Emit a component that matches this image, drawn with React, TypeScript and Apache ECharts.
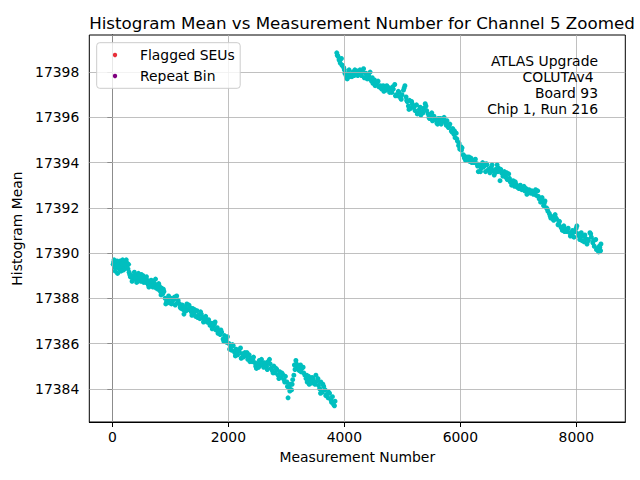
import React, { useEffect, useRef } from "react";
import * as echarts from "echarts";

const TITLE = "Histogram Mean vs Measurement Number for Channel 5 Zoomed";
const X_NAME = "Measurement Number";
const Y_NAME = "Histogram Mean";
const X_TICKS = [0, 2000, 4000, 6000, 8000];
const Y_TICKS = [17384, 17386, 17388, 17390, 17392, 17394, 17396, 17398];
const X_LIMITS = [-397, 8845];
const Y_LIMITS = [17382.53, 17399.64];
const LEGEND_NAMES = ["Flagged SEUs", "Repeat Bin"];
const LEGEND_COLORS = ["#e8303a", "#800080"];
const ANNOTATION = ["ATLAS Upgrade", "COLUTAv4 ", "Board 93", "Chip 1, Run 216"];

// first run block (before the jump)
const LOW_SEGMENT: [number, number][] = [
  [15,17389.5],[30,17389.7],[45,17389.35],[60,17389.6],[75,17389.45],[90,17389.1],[105,17389.55],[120,17389.3],[140,17389.65],[155,17389.4],
  [170,17389.5],[190,17389.25],[205,17389.6],[220,17389.45],[240,17389.7],[255,17389.55],[270,17389.3],[290,17389.15],[310,17388.95],[330,17389.0],
  [350,17388.8],[370,17388.9],[390,17389.05],[410,17388.85],[430,17388.95],[450,17389.1],[470,17389.0],[490,17388.75],[510,17388.9],[530,17389.0],
  [555,17388.85],[575,17388.7],[600,17388.8],[620,17388.6],[640,17388.75],[660,17388.55],[680,17388.7],[700,17388.5],[720,17388.65],[745,17388.85],
  [765,17388.6],[790,17388.4],[810,17388.55],[830,17388.3],[850,17388.45],[870,17388.2],[890,17388.3],[910,17388.0],[935,17387.85],[960,17387.95],
  [985,17387.8],[1010,17388.0],[1035,17387.85],[1060,17387.95],[1085,17387.7],[1110,17388.1],[1135,17387.9],[1160,17387.75],[1185,17387.55],[1210,17387.7],
  [1235,17387.3],[1260,17387.6],[1285,17387.75],[1310,17387.5],[1335,17387.6],[1360,17387.4],[1385,17387.55],[1410,17387.35],[1435,17387.2],[1460,17387.45],
  [1485,17387.25],[1510,17387.1],[1535,17387.3],[1560,17387.15],[1585,17387.0],[1610,17387.2],[1635,17386.95],[1660,17387.05],[1685,17386.8],[1710,17386.9],
  [1735,17386.75],[1760,17386.85],[1785,17386.6],[1810,17386.7],[1835,17386.55],[1860,17386.4],[1885,17386.5],[1910,17386.2],[1935,17386.35],[1960,17386.15],
  [1985,17386.3],[2010,17386.0],[2035,17385.85],[2060,17385.7],[2085,17385.9],[2110,17385.6],[2135,17385.75],[2160,17385.5],[2185,17385.65],[2210,17385.8],
  [2235,17385.55],[2260,17385.4],[2285,17385.6],[2310,17385.45],[2335,17385.3],[2360,17385.5],[2385,17385.35],[2410,17385.2],[2435,17385.4],[2460,17385.15],
  [2485,17384.9],[2510,17385.1],[2535,17385.25],[2560,17385.05],[2585,17385.15],[2610,17384.95],[2635,17385.1],[2660,17385.0],[2685,17385.2],[2710,17385.3],
  [2735,17384.9],[2760,17384.8],[2785,17385.0],[2810,17384.7],[2835,17384.85],[2860,17384.6],[2885,17384.75],[2910,17384.5],[2935,17384.65],[2960,17384.4],
  [2985,17384.55],[3010,17384.3],[3030,17383.6],[3050,17384.05],[3070,17384.2],[3090,17383.95],[3110,17384.4],[3130,17384.6],[3150,17384.85],[3165,17385.25],
  [3185,17384.95],[3205,17385.0],[3225,17384.8],[3245,17385.05],[3265,17384.9],[3290,17384.95],[3320,17384.6],[3340,17384.45],[3360,17384.3],[3385,17384.55],
  [3410,17384.4],[3435,17384.25],[3460,17384.45],[3485,17384.3],[3510,17384.6],[3535,17384.35],[3555,17384.15],[3575,17384.0],[3595,17384.3],[3620,17383.85],
  [3645,17384.1],[3670,17383.95],[3695,17383.75],[3720,17383.6],[3745,17383.8],[3770,17383.5],[3795,17383.65],[3815,17383.3],[3840,17383.45]
];

// further readings in the first block
const LOW_SEGMENT_B: [number, number][] = [
  [22,17389.6],[52,17389.2],[82,17389.65],[112,17389.4],[148,17389.2],[178,17389.7],[212,17389.3],[248,17389.4],[280,17389.5],[300,17389.05],
  [340,17388.75],[380,17389.15],[420,17388.7],[460,17388.85],[500,17389.05],[540,17388.7],[588,17388.95],[630,17388.5],[670,17388.8],[710,17388.75],
  [755,17388.45],[800,17388.65],[840,17388.15],[880,17388.4],[922,17387.75],[970,17388.1],[1020,17387.75],[1070,17388.05],[1120,17387.8],[1170,17387.6],
  [1222,17387.5],[1272,17387.45],[1322,17387.7],[1372,17387.25],[1420,17387.5],[1472,17387.15],[1522,17387.4],[1572,17386.95],[1622,17387.05],[1672,17386.9],
  [1722,17386.65],[1772,17386.95],[1822,17386.45],[1872,17386.6],[1922,17386.1],[1972,17386.05],[2022,17385.75],[2072,17385.95],[2122,17385.45],[2172,17385.7],
  [2222,17385.35],[2272,17385.55],[2322,17385.6],[2372,17385.2],[2422,17385.3],[2472,17385.0],[2522,17384.95],[2572,17385.3],[2622,17385.15],[2672,17384.85],
  [2722,17385.1],[2772,17384.7],[2822,17384.9],[2872,17384.45],[2922,17384.7],[2972,17384.3],[3020,17384.1],[3060,17383.9],[3100,17384.2],[3140,17385.05],
  [3175,17385.1],[3215,17384.85],[3255,17384.75],[3300,17384.7],[3350,17384.6],[3395,17384.2],[3445,17384.5],[3495,17384.2],[3545,17384.45],[3590,17383.8],
  [3630,17384.2],[3680,17383.7],[3730,17383.85],[3780,17383.4],[3830,17383.25]
];

// second run block (after the jump)
const HIGH_SEGMENT: [number, number][] = [
  [3870,17398.85],[3890,17398.7],[3910,17398.55],[3930,17398.4],[3950,17398.6],[3970,17398.3],[3990,17398.2],[4010,17397.95],[4030,17397.85],[4050,17397.7],
  [4070,17397.95],[4095,17397.8],[4120,17397.9],[4145,17398.0],[4170,17397.85],[4195,17397.95],[4220,17398.05],[4245,17397.9],[4270,17398.1],[4295,17397.85],
  [4320,17398.0],[4345,17397.75],[4370,17397.95],[4395,17397.7],[4420,17397.85],[4445,17398.0],[4470,17397.6],[4495,17397.5],[4520,17397.65],[4545,17397.45],
  [4570,17397.55],[4595,17397.35],[4620,17397.4],[4645,17397.25],[4670,17397.4],[4695,17397.3],[4720,17397.2],[4745,17397.35],[4770,17397.3],[4795,17397.2],
  [4820,17397.1],[4845,17397.25],[4870,17397.45],[4895,17397.0],[4920,17396.95],[4945,17397.1],[4970,17396.85],[4995,17397.0],[5020,17397.2],[5045,17397.4],
  [5065,17396.9],[5085,17396.7],[5105,17396.5],[5125,17396.75],[5145,17396.4],[5170,17396.6],[5195,17396.45],[5220,17396.3],[5245,17396.55],[5270,17396.2],
  [5295,17396.35],[5320,17396.1],[5345,17396.25],[5370,17396.4],[5395,17396.6],[5420,17396.3],[5445,17396.15],[5470,17395.95],[5495,17396.1],[5520,17395.85],
  [5545,17396.05],[5570,17395.9],[5595,17395.75],[5620,17395.95],[5645,17395.8],[5670,17395.7],[5695,17395.9],[5720,17396.0],[5745,17395.75],[5770,17395.85],
  [5795,17395.55],[5820,17395.7],[5845,17395.4],[5870,17395.5],[5890,17395.25],[5910,17395.1],[5930,17395.3],[5950,17394.95],[5970,17394.75],[5990,17394.6],
  [6010,17394.7],[6030,17394.65],[6050,17394.35],[6070,17394.2],[6090,17394.1],[6110,17394.25],[6135,17394.15],[6160,17394.05],[6185,17394.2],[6210,17394.1],
  [6235,17394.0],[6260,17394.15],[6285,17393.95],[6310,17393.6],[6335,17393.9],[6360,17393.75],[6385,17394.0],[6410,17393.85],[6435,17393.6],[6460,17393.9],
  [6485,17393.7],[6510,17393.55],[6535,17393.8],[6560,17393.65],[6585,17393.45],[6610,17393.7],[6635,17393.9],[6660,17393.75],[6685,17393.2],[6710,17393.55],
  [6735,17393.4],[6760,17393.6],[6785,17393.35],[6810,17393.25],[6835,17393.5],[6860,17393.15],[6885,17393.0],[6910,17393.2],[6935,17392.95],[6960,17393.05],
  [6985,17392.9],[7010,17392.85],[7035,17393.0],[7060,17392.8],[7085,17392.9],[7110,17392.75],[7135,17392.85],[7160,17392.7],[7185,17392.8],[7210,17392.65],
  [7235,17392.75],[7260,17392.6],[7285,17392.7],[7310,17392.55],[7335,17392.75],[7360,17392.4],[7385,17392.25],[7410,17392.45],[7435,17392.1],[7460,17392.3],
  [7485,17392.0],[7510,17391.85],[7535,17391.75],[7560,17391.55],[7585,17391.6],[7610,17391.45],[7635,17391.7],[7660,17391.5],[7685,17391.25],[7710,17391.4],
  [7735,17391.15],[7760,17391.0],[7785,17391.2],[7810,17391.05],[7835,17390.95],[7860,17391.1],[7885,17390.9],[7910,17390.85],[7935,17391.0],[7960,17390.7],
  [7985,17390.95],[8010,17391.2],[8035,17390.85],[8060,17390.6],[8085,17390.9],[8110,17390.75],[8135,17390.5],[8160,17390.65],[8185,17390.4],[8210,17390.55],
  [8235,17390.9],[8260,17390.7],[8285,17390.45],[8310,17390.3],[8335,17390.6],[8360,17390.2],[8385,17390.05],[8405,17390.25],[8425,17390.4]
];

// further readings in the second block
const HIGH_SEGMENT_B: [number, number][] = [
  [3880,17398.75],[3920,17398.5],[3960,17398.3],[4000,17398.1],[4040,17397.75],[4082,17398.1],[4132,17397.8],[4182,17398.1],[4232,17397.85],[4282,17397.95],
  [4332,17398.15],[4382,17397.8],[4432,17397.7],[4482,17397.75],[4532,17397.4],[4582,17397.6],[4632,17397.3],[4682,17397.15],[4732,17397.4],[4782,17397.1],
  [4832,17397.35],[4882,17396.95],[4932,17397.15],[4982,17396.8],[5032,17397.3],[5075,17396.75],[5115,17396.35],[5160,17396.7],[5210,17396.5],[5258,17396.15],
  [5308,17396.45],[5358,17396.2],[5408,17396.5],[5458,17396.0],[5508,17396.2],[5558,17395.95],[5608,17395.7],[5658,17395.95],[5708,17395.85],[5758,17395.65],
  [5808,17395.6],[5858,17395.35],[5900,17395.4],[5940,17395.05],[5980,17394.85],[6020,17394.55],[6060,17394.3],[6100,17394.15],[6148,17394.25],[6198,17394.0],
  [6248,17394.1],[6298,17393.85],[6348,17393.6],[6398,17393.8],[6448,17393.95],[6498,17393.65],[6548,17393.9],[6598,17393.55],[6648,17393.6],[6698,17393.7],
  [6748,17393.45],[6798,17393.55],[6848,17393.3],[6898,17393.1],[6948,17393.15],[6998,17392.95],[7048,17392.9],[7098,17392.95],[7148,17392.6],[7198,17392.75],
  [7248,17392.7],[7298,17392.8],[7348,17392.5],[7398,17392.35],[7448,17392.2],[7498,17391.95],[7548,17391.65],[7598,17391.5],[7648,17391.55],[7698,17391.3],
  [7748,17391.1],[7798,17390.95],[7848,17391.05],[7898,17390.75],[7948,17390.9],[7998,17391.1],[8048,17390.75],[8098,17390.55],[8148,17390.8],[8198,17390.6],
  [8248,17390.85],[8298,17390.55],[8348,17390.15],[8398,17390.3],[8418,17390.1]
];

const FONT = "DejaVu Sans";

export default function App() {
  const ref = useRef<HTMLDivElement>(null);
  useEffect(() => {
    if (!ref.current) return;
    const chart = echarts.init(ref.current, undefined, { renderer: "svg" });
    const gridLines = [
      ...X_TICKS.map((v) => ({ xAxis: v })),
      ...Y_TICKS.map((v) => ({ yAxis: v })),
    ];
    const annotationTexts = ANNOTATION.map((line, i) => ({
      type: "text",
      z: 100,
      x: 598 - (line.endsWith(" ") ? 4.4 : 0),
      y: 61 + i * 16,
      style: {
        text: line.trimEnd(),
        align: "right",
        verticalAlign: "middle",
        font: `13.9px "${FONT}"`,
        fill: "#000",
      },
    }));
    const legendItems = LEGEND_NAMES.flatMap((name, i) => [
      {
        type: "circle",
        z: 101,
        shape: { cx: 115, cy: 55 + i * 21, r: 2.2 },
        style: { fill: LEGEND_COLORS[i] },
      },
      {
        type: "text",
        z: 101,
        x: 140,
        y: 55 + i * 21,
        style: {
          text: name,
          align: "left",
          verticalAlign: "middle",
          font: `13.9px "${FONT}"`,
          fill: "#000",
        },
      },
    ]);
    chart.setOption({
      animation: false,
      backgroundColor: "#ffffff",
      textStyle: { fontFamily: FONT },
      title: {
        text: TITLE,
        left: 357,
        top: 9,
        textAlign: "center",
        textStyle: { fontFamily: FONT, fontSize: 16.7, fontWeight: "normal", color: "#000" },
      },
      grid: {
        left: 89.3,
        top: 35,
        right: 14.7,
        bottom: 58,
        show: true,
        borderColor: "#000",
        borderWidth: 1,
        backgroundColor: "transparent",
      },
      xAxis: {
        type: "value",
        min: X_LIMITS[0],
        max: X_LIMITS[1],
        name: X_NAME,
        nameLocation: "middle",
        nameGap: 28,
        nameTextStyle: { fontFamily: FONT, fontSize: 13.9, color: "#000" },
        axisLine: { show: true, lineStyle: { color: "#000", width: 1 } },
        axisTick: { show: true, customValues: X_TICKS, length: 5, lineStyle: { color: "#000" } },
        axisLabel: {
          customValues: X_TICKS,
          margin: 8,
          fontFamily: FONT,
          fontSize: 13.9,
          color: "#000",
          formatter: (v: number) => String(v),
        },
        splitLine: { show: false },
      },
      yAxis: {
        type: "value",
        min: Y_LIMITS[0],
        max: Y_LIMITS[1],
        name: Y_NAME,
        nameLocation: "middle",
        nameGap: 53,
        nameTextStyle: { fontFamily: FONT, fontSize: 13.9, color: "#000" },
        axisLine: { show: true, lineStyle: { color: "#000", width: 1 } },
        axisTick: { show: true, customValues: Y_TICKS, length: 5, lineStyle: { color: "#000" } },
        axisLabel: {
          customValues: Y_TICKS,
          margin: 10,
          fontFamily: FONT,
          fontSize: 13.9,
          color: "#000",
          formatter: (v: number) => String(v),
        },
        splitLine: { show: false },
      },
      graphic: [
        ...annotationTexts,
        {
          type: "rect",
          z: 100,
          shape: { x: 96.7, y: 42.7, width: 143.5, height: 45.6, r: 3 },
          style: { fill: "rgba(255,255,255,0.8)", stroke: "#cccccc", lineWidth: 1 },
        },
        ...legendItems,
      ],
      series: [
        {
          name: "measurements",
          type: "scatter",
          data: [...LOW_SEGMENT, ...LOW_SEGMENT_B, ...HIGH_SEGMENT, ...HIGH_SEGMENT_B],
          symbol: "circle",
          symbolSize: 5,
          itemStyle: { color: "#00bfbf", opacity: 1 },
          z: 2,
          silent: true,
        },
        {
          name: "gridlines",
          type: "scatter",
          data: [],
          z: 3,
          silent: true,
          markLine: {
            silent: true,
            symbol: "none",
            label: { show: false },
            lineStyle: { color: "#b0b0b0", width: 0.8, type: "solid" },
            emphasis: { disabled: true },
            data: gridLines,
          },
        },
      ],
    });
    return () => chart.dispose();
  }, []);
  return (
    <div
      ref={ref}
      style={{ position: "fixed", left: 0, top: 0, width: 640, height: 480 }}
    />
  );
}
